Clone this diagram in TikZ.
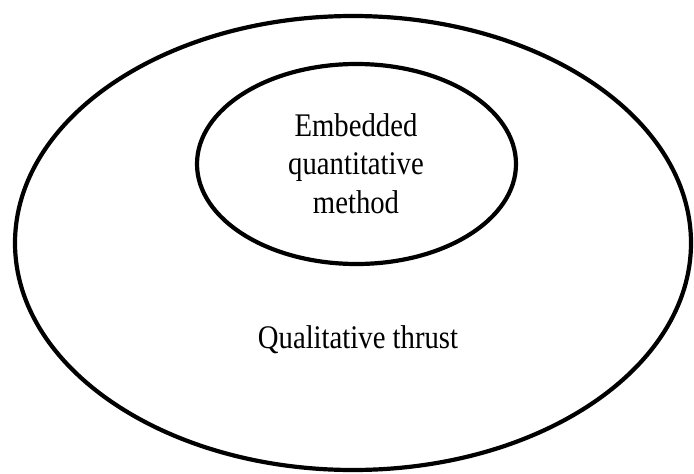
\documentclass[tikz,border=0pt]{standalone}
\usepackage{fontspec}
\setmainfont{Liberation Serif}[FakeStretch=0.87]
\usetikzlibrary{shapes.geometric}
\begin{document}
\begin{tikzpicture}[x=1pt,y=-1pt,
  ring/.style={draw=black, line width=4.2pt, ellipse, inner sep=0pt},
  lbl/.style={font=\fontsize{33}{38.5}\selectfont, align=center, inner sep=0pt}]
\useasboundingbox (0,0) rectangle (694,474);
\fill[white] (0,0) rectangle (694,474);
\node[ring, minimum width=676pt, minimum height=454pt] (outer) at (353,243) {};
\node[ring, minimum width=319pt, minimum height=200pt] (inner) at (356.5,164) {};
\node[lbl, anchor=base] (emb) at (356,213) {Embedded\\quantitative\\method};
\node[lbl, anchor=base] (qual) at (358,348) {Qualitative thrust};
\end{tikzpicture}
\end{document}
